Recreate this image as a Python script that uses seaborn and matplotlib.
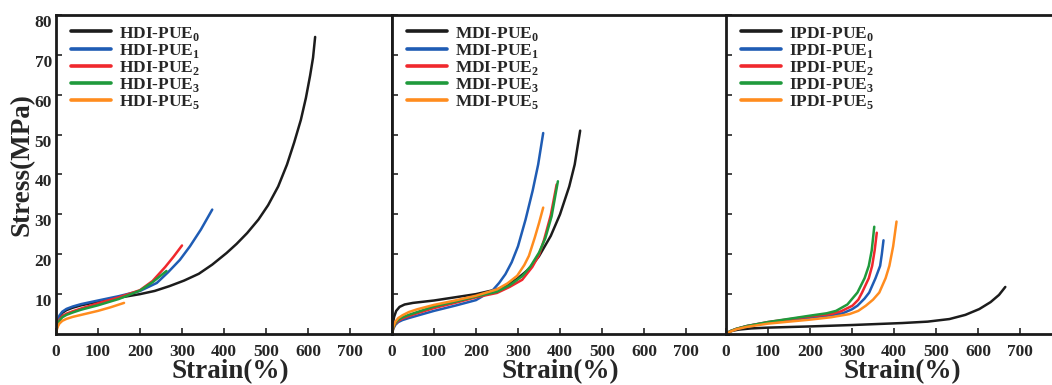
import numpy as np
import pandas as pd
import matplotlib
matplotlib.use("Agg")
import matplotlib.pyplot as plt
import matplotlib.transforms as mtransforms
import seaborn as sns

# ---------------- data ----------------
groups = ["HDI", "MDI", "IPDI"]
suffixes = ["0", "1", "2", "3", "5"]
colors = ["#1c1c1c", "#1f5cb4", "#f0282d", "#1f9a3c", "#ff8c1e"]
xticks = [0, 100, 200, 300, 400, 500, 600, 700]
yticks = [10, 20, 30, 40, 50, 60, 70, 80]

# HDI panel
hdi0_x = [0, 3, 8, 15, 25, 40, 60, 100, 150, 200, 235, 270, 305, 340, 372, 406, 430, 455, 482, 505, 529, 550, 567, 583, 595, 605, 612, 617]
hdi0_y = [0, 2.5, 4.2, 5.3, 6.0, 6.6, 7.2, 8.1, 9.1, 10.0, 10.8, 12, 13.4, 15.1, 17.4, 20.3, 22.6, 25.3, 28.7, 32.3, 37, 42.5, 48, 53.7, 59.2, 64.8, 69.3, 74.5]
hdi1_x = [0, 3, 8, 15, 25, 40, 60, 100, 150, 200, 240, 267, 295, 319, 345, 372]
hdi1_y = [0, 2.8, 4.6, 5.6, 6.3, 6.9, 7.5, 8.4, 9.5, 10.8, 12.8, 15.5, 18.6, 22, 26.2, 31.2]
hdi2_x = [0, 3, 8, 15, 25, 40, 60, 100, 150, 200, 230, 260, 280, 300]
hdi2_y = [0, 2.2, 3.6, 4.5, 5.1, 5.7, 6.4, 7.7, 9.2, 11, 13.3, 16.8, 19.4, 22.2]
hdi3_x = [0, 3, 8, 15, 25, 40, 60, 100, 150, 200, 230, 263]
hdi3_y = [0, 2, 3.3, 4.2, 4.8, 5.4, 6.1, 7.2, 8.8, 10.9, 13, 15.8]
hdi5_x = [0, 3, 8, 15, 25, 40, 60, 100, 130, 162]
hdi5_y = [0, 1.6, 2.6, 3.3, 3.8, 4.3, 4.8, 5.8, 6.7, 7.8]

# MDI panel
mdi0_x = [0, 2, 5, 10, 18, 30, 50, 100, 150, 200, 250, 270, 300, 326, 350, 378, 400, 422, 435, 448]
mdi0_y = [0, 2.5, 4.3, 5.8, 6.8, 7.4, 7.8, 8.4, 9.2, 10, 11.2, 12, 14, 16.3, 19.5, 24.6, 30, 37, 42.5, 51]
mdi1_x = [0, 3, 8, 15, 25, 40, 60, 100, 150, 200, 240, 255, 270, 285, 300, 318, 335, 348, 360]
mdi1_y = [0, 1.3, 2.3, 3, 3.5, 4, 4.6, 5.8, 7.1, 8.5, 11, 12.8, 15, 18, 22, 28.7, 36, 42.5, 50.4]
mdi2_x = [0, 3, 8, 15, 25, 40, 60, 100, 150, 200, 250, 280, 310, 334, 350, 362, 378, 392]
mdi2_y = [0, 1.5, 2.6, 3.3, 3.9, 4.5, 5.2, 6.5, 7.8, 9.2, 10.3, 11.8, 13.6, 16.8, 19.8, 23.6, 29.8, 37.5]
mdi3_x = [0, 3, 8, 15, 25, 40, 60, 100, 150, 200, 250, 280, 310, 330, 350, 365, 380, 395]
mdi3_y = [0, 1.6, 2.8, 3.6, 4.2, 4.8, 5.5, 6.9, 8.1, 9.4, 10.6, 12.2, 14.5, 17, 20.4, 24, 29.5, 38.3]
mdi5_x = [0, 3, 8, 15, 25, 40, 60, 100, 150, 200, 250, 275, 298, 315, 326, 340, 350, 360]
mdi5_y = [0, 1.8, 3.1, 4, 4.7, 5.5, 6.2, 7.3, 8.4, 9.6, 11.2, 12.7, 14.6, 17.3, 19.6, 24.2, 27.8, 31.7]

# IPDI panel
ipdi0_x = [0, 5, 15, 30, 60, 100, 200, 300, 420, 480, 532, 570, 603, 630, 650, 665]
ipdi0_y = [0, 0.4, 0.8, 1.1, 1.4, 1.6, 1.9, 2.25, 2.75, 3.1, 3.75, 4.8, 6.25, 8, 9.8, 11.8]
ipdi1_x = [0, 10, 25, 50, 100, 150, 200, 250, 278, 300, 313, 330, 341, 356, 367, 371, 375]
ipdi1_y = [0, 0.7, 1.3, 2, 2.9, 3.5, 4.1, 4.7, 5.2, 6.2, 7.1, 8.9, 10.4, 14, 17.1, 20, 23.5]
ipdi2_x = [0, 10, 25, 50, 100, 150, 200, 250, 274, 301, 315, 324, 340, 348, 354, 359]
ipdi2_y = [0, 0.7, 1.3, 2, 3, 3.7, 4.4, 5.0, 5.7, 7.1, 8.6, 10.4, 14, 17.1, 21, 25.4]
ipdi3_x = [0, 10, 25, 50, 100, 150, 200, 240, 262, 289, 313, 330, 340, 347, 353]
ipdi3_y = [0, 0.7, 1.3, 2, 3, 3.8, 4.6, 5.2, 5.8, 7.4, 10.4, 14, 17.1, 21, 26.9]
ipdi5_x = [0, 10, 25, 50, 100, 150, 200, 250, 294, 315, 333, 350, 365, 380, 389, 398, 406]
ipdi5_y = [0, 0.6, 1.2, 1.8, 2.6, 3.1, 3.6, 4.2, 5, 5.8, 7.1, 8.6, 10.4, 14, 17.1, 22, 28.2]

curves = {
    "HDI": [(hdi0_x, hdi0_y), (hdi1_x, hdi1_y), (hdi2_x, hdi2_y), (hdi3_x, hdi3_y), (hdi5_x, hdi5_y)],
    "MDI": [(mdi0_x, mdi0_y), (mdi1_x, mdi1_y), (mdi2_x, mdi2_y), (mdi3_x, mdi3_y), (mdi5_x, mdi5_y)],
    "IPDI": [(ipdi0_x, ipdi0_y), (ipdi1_x, ipdi1_y), (ipdi2_x, ipdi2_y), (ipdi3_x, ipdi3_y), (ipdi5_x, ipdi5_y)],
}

# ---------------- style ----------------
sns.set_theme(style="ticks")
plt.rcParams["font.family"] = ["Liberation Serif", "DejaVu Serif"]
plt.rcParams["font.weight"] = "bold"
plt.rcParams["mathtext.fontset"] = "custom"
plt.rcParams["mathtext.rm"] = "Liberation Serif:bold"
plt.rcParams["mathtext.bf"] = "Liberation Serif:bold"
plt.rcParams["axes.linewidth"] = 2.0
plt.rcParams["lines.solid_joinstyle"] = "round"

fig = plt.figure(figsize=(10.52, 3.85), dpi=100)
W, H = 1052.0, 385.0
lefts = [56, 392, 726]
pw = 336
top_px, bot_px = 15, 334
xlabel_x = [0.518, 0.5, 0.524]
ytick_shift = mtransforms.ScaledTranslation(0, -0.06, fig.dpi_scale_trans)

for i, g in enumerate(groups):
    ax = fig.add_axes([lefts[i] / W, 1 - bot_px / H, pw / W, (bot_px - top_px) / H])
    rows = []
    for j, (xs, ys) in enumerate(curves[g]):
        label = f"{g}-PUE$_{{{suffixes[j]}}}$"
        for k, (xv, yv) in enumerate(zip(xs, ys)):
            rows.append({"strain": xv, "stress": yv, "sample": label, "order": k})
    df = pd.DataFrame(rows)
    labels = [f"{g}-PUE$_{{{s}}}$" for s in suffixes]
    sns.lineplot(data=df, x="strain", y="stress", hue="sample", hue_order=labels,
                 palette=dict(zip(labels, colors)), sort=False, estimator=None,
                 linewidth=1.8, ax=ax, legend=True)
    ax.set_xlim(0, 800)
    ax.set_ylim(0, 80)
    ax.set_xticks(xticks)
    ax.set_yticks(yticks)
    ax.tick_params(direction="in", length=4, width=1.2, labelsize=12.5)
    ax.tick_params(axis="x", pad=7)
    ax.tick_params(axis="y", pad=3)
    for lab in ax.get_xticklabels() + ax.get_yticklabels():
        lab.set_fontweight("bold")
    if i == 0:
        ax.set_ylabel("Stress(MPa)", fontsize=19.5, fontweight="bold")
        ax.yaxis.set_label_coords(-0.102, 0.53)
        ax.yaxis.label.set_verticalalignment("center")
        for lab in ax.get_yticklabels():
            lab.set_transform(lab.get_transform() + ytick_shift)
    else:
        ax.set_ylabel("")
        ax.set_yticklabels([])
    ax.set_xlabel("Strain(%)", fontsize=19.5, fontweight="bold")
    ax.xaxis.set_label_coords(xlabel_x[i], -0.119)
    ax.xaxis.label.set_verticalalignment("center")
    leg = ax.legend(loc="upper left", bbox_to_anchor=(0.015, 1.0), frameon=False,
                    fontsize=12.5, handlelength=2.3, handletextpad=0.5,
                    labelspacing=-0.05, borderaxespad=0.15)
    for t in leg.get_texts():
        t.set_fontweight("bold")
    for ln in leg.get_lines():
        ln.set_linewidth(2.6)
    for sp in ax.spines.values():
        sp.set_linewidth(2.0)
        sp.set_color("#1a1a1a")

fig.savefig("out.png", dpi=100)
